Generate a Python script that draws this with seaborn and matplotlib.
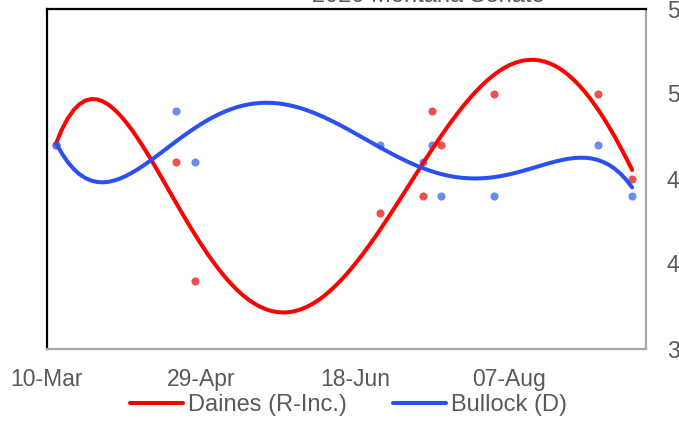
import pandas as pd
import numpy as np
import matplotlib
matplotlib.use("Agg")
import matplotlib.pyplot as plt
import seaborn as sns

# poll end dates (2020) and results
poll_dates = ["2020-03-13", "2020-04-21", "2020-04-27", "2020-06-26", "2020-07-10",
              "2020-07-13", "2020-07-16", "2020-08-02", "2020-09-05", "2020-09-16"]
daines = [47, 46, 39, 43, 44, 49, 47, 50, 50, 45]
bullock = [47, 49, 46, 47, 46, 47, 44, 44, 47, 44]

start = pd.Timestamp("2020-03-10")
y_ticks = [35, 40, 45, 50, 55]
title = "2020 Montana Senate"

sns.set_style("white")
plt.rcParams["font.family"] = ["Liberation Sans", "DejaVu Sans"]
grey = "#595959"

df = pd.DataFrame({"date": pd.to_datetime(poll_dates), "Daines": daines, "Bullock": bullock})
df["day"] = (df["date"] - start).dt.days

fig = plt.figure(figsize=(6.79, 4.29), dpi=100)
ax = fig.add_axes([47 / 679, 1 - 348.5 / 429, 599 / 679, 340 / 429])

# polynomial trendlines (order 5) over the poll dots
sns.regplot(data=df, x="day", y="Daines", order=5, ci=None, ax=ax,
            scatter_kws={"s": 34, "color": "#f03c3c", "alpha": 0.9, "linewidths": 0},
            line_kws={"color": "#ff0000", "lw": 2.9, "label": "Daines (R-Inc.)"})
sns.regplot(data=df, x="day", y="Bullock", order=5, ci=None, ax=ax,
            scatter_kws={"s": 34, "color": "#4f78f0", "alpha": 0.85, "linewidths": 0},
            line_kws={"color": "#2a4ff5", "lw": 2.9, "label": "Bullock (D)"})

tick_dates = pd.date_range(start, periods=4, freq="50D")
ax.set_xticks((tick_dates - start).days)
ax.set_xticklabels(tick_dates.strftime("%d-%b"))
ax.set_xlim(0, 194.5)
ax.set_ylim(35, 55)
ax.yaxis.tick_right()
ax.set_yticks(y_ticks)
ax.set_xlabel("")
ax.set_ylabel("")
ax.tick_params(axis="x", length=0, pad=14, labelsize=16.5, labelcolor=grey)
ax.tick_params(axis="y", length=0, pad=15, labelsize=16.5, labelcolor=grey)

for side in ["left", "top"]:
    ax.spines[side].set_color("black")
    ax.spines[side].set_linewidth(1.6)
for side in ["right", "bottom"]:
    ax.spines[side].set_color("#a6a6a6")
    ax.spines[side].set_linewidth(1.6)

leg = ax.legend(loc="center", bbox_to_anchor=(0.503, -0.167), ncol=2, frameon=False,
                fontsize=17, handlelength=2.25, handletextpad=0.2, columnspacing=1.95)
for t in leg.get_texts():
    t.set_color(grey)

fig.text(428 / 679, 1 - 2.5 / 429, title, ha="center", va="baseline", fontsize=17, color=grey)

fig.savefig("out.png", dpi=100)
